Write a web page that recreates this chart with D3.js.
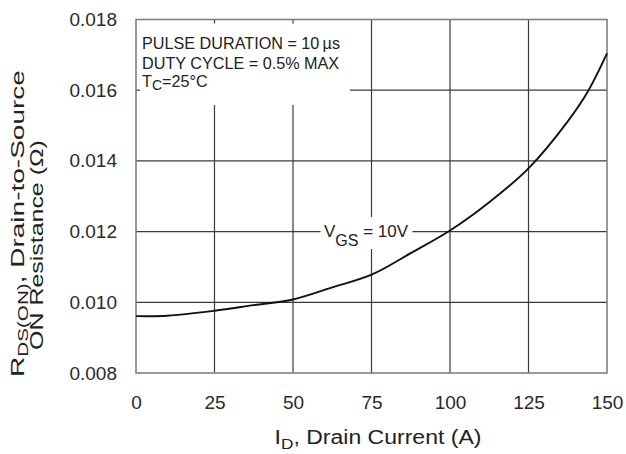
<!DOCTYPE html>
<html>
<head>
<meta charset="utf-8">
<script src="https://cdn.jsdelivr.net/npm/d3@7"></script>
<style>
  html, body { margin: 0; padding: 0; background: #fff; }
  svg { display: block; font-family: "Liberation Sans", Arial, Helvetica, sans-serif; }
</style>
</head>
<body>
<svg id="chart" width="626" height="454"></svg>
<script>
// Drain current (A) and on-resistance (ohm) along the VGS = 10 V curve
const drainCurrent = [0, 10, 25, 37.5, 50, 62.5, 75, 87.5, 100, 112.5, 125, 137.5, 144, 150];
const onResistance = [0.00961, 0.00962, 0.00976, 0.00992, 0.01008, 0.01042, 0.01078, 0.01139, 0.01203, 0.01283, 0.01379, 0.01512, 0.01598, 0.01704];

const xTicks = [0, 25, 50, 75, 100, 125, 150];
const yTicks = [0.008, 0.010, 0.012, 0.014, 0.016, 0.018];

(function () {
  const svg = d3.select("#chart");
  const plotLeft = 136, plotRight = 607, plotTop = 19.5, plotBottom = 373;

  const x = d3.scaleLinear().domain([0, 150]).range([plotLeft, plotRight]);
  const y = d3.scaleLinear().domain([0.008, 0.018]).range([plotBottom, plotTop]);

  const grid = svg.append("g").attr("stroke", "#3a3a3a").attr("stroke-width", 1.2).attr("fill", "none");

  // grid lines; some are cut where the notes sit
  function hLine(v, x0, x1) {
    grid.append("line").attr("x1", x0).attr("x2", x1).attr("y1", y(v)).attr("y2", y(v));
  }
  function vLine(v, y0, y1) {
    grid.append("line").attr("x1", x(v)).attr("x2", x(v)).attr("y1", y0).attr("y2", y1);
  }
  hLine(0.010, plotLeft, plotRight);
  hLine(0.012, plotLeft, 320.5);
  hLine(0.012, 412.5, plotRight);
  hLine(0.014, plotLeft, plotRight);
  hLine(0.016, 350, plotRight);
  hLine(0.016, plotLeft, plotLeft + 4);      // short inner tick beside the notes

  vLine(25, 105, plotBottom);
  vLine(25, plotTop, plotTop + 4);
  vLine(50, 105, plotBottom);
  vLine(50, plotTop, plotTop + 4);
  vLine(75, plotTop, 217);
  vLine(75, 249, plotBottom);
  vLine(100, plotTop, plotBottom);
  vLine(125, plotTop, plotBottom);

  // plot frame
  svg.append("rect")
    .attr("x", plotLeft).attr("y", plotTop)
    .attr("width", plotRight - plotLeft).attr("height", plotBottom - plotTop)
    .attr("fill", "none").attr("stroke", "#808080").attr("stroke-width", 1.6);

  // curve
  const pts = drainCurrent.map((d, i) => [d, onResistance[i]]);
  svg.append("path")
    .datum(pts)
    .attr("fill", "none")
    .attr("stroke", "#111")
    .attr("stroke-width", 1.9)
    .attr("d", d3.line().x(d => x(d[0])).y(d => y(d[1])).curve(d3.curveCatmullRom.alpha(0.5)));

  // axes (labels only, the frame draws the lines)
  const xAxis = svg.append("g")
    .attr("transform", `translate(0,${plotBottom})`)
    .call(d3.axisBottom(x).tickValues(xTicks).tickSize(0).tickPadding(23).tickFormat(d3.format("d")));
  xAxis.select(".domain").remove();
  xAxis.attr("font-family", null).attr("font-size", 19);
  xAxis.selectAll("text").attr("fill", "#2a2a2a");

  const yAxis = svg.append("g")
    .attr("transform", `translate(${plotLeft},0)`)
    .call(d3.axisLeft(y).tickValues(yTicks).tickSize(0).tickPadding(19).tickFormat(d3.format(".3f")));
  yAxis.select(".domain").remove();
  yAxis.attr("font-family", null).attr("font-size", 19);
  yAxis.selectAll("text").attr("fill", "#2a2a2a");

  const ink = "#222";

  // test-condition notes
  const notes = svg.append("g").attr("font-size", 16.2).attr("fill", ink);
  notes.append("text").attr("x", 142).attr("y", 49).text("PULSE DURATION = 10\u2009\u00b5s");
  notes.append("text").attr("x", 142).attr("y", 68.5).text("DUTY CYCLE = 0.5% MAX");
  const tc = notes.append("text").attr("x", 142).attr("y", 86.5);
  tc.append("tspan").text("T");
  tc.append("tspan").attr("font-size", 14).attr("dy", 3.5).text("C");
  tc.append("tspan").attr("dy", -3.5).text("=25\u00b0C");

  // curve label
  const vgs = svg.append("text").attr("x", 324).attr("y", 237).attr("font-size", 17).attr("fill", ink);
  vgs.append("tspan").text("V");
  vgs.append("tspan").attr("font-size", 16).attr("dy", 9).text("GS");
  vgs.append("tspan").attr("dy", -9).text(" = 10V");

  // stretch factor that makes a title span the given length along its own direction
  function fitLength(sel, len) {
    return len / sel.node().getComputedTextLength();
  }

  // x-axis title
  const xtG = svg.append("g");
  const xt = xtG.append("text").attr("text-anchor", "middle")
    .attr("font-size", 20).attr("fill", ink);
  xt.append("tspan").text("I");
  xt.append("tspan").attr("font-size", 15).attr("dy", 5).text("D");
  xt.append("tspan").attr("dy", -5).text(", Drain Current (A)");
  xtG.attr("transform", `translate(378,444) scale(${fitLength(xt, 207)},1)`);

  // y-axis title, two rotated lines
  const yt1G = svg.append("g");
  const yt1 = yt1G.append("text").attr("text-anchor", "middle").attr("font-size", 19).attr("fill", ink);
  yt1.append("tspan").text("R");
  yt1.append("tspan").attr("font-size", 14).attr("dy", 4).text("DS(ON)");
  yt1.append("tspan").attr("dy", -4).text(", Drain-to-Source");
  yt1G.attr("transform", `translate(24,223.5) rotate(-90) scale(${fitLength(yt1, 307)},1)`);

  const yt2G = svg.append("g");
  const yt2 = yt2G.append("text").attr("text-anchor", "middle").attr("font-size", 19).attr("fill", ink)
    .text("ON Resistance (\u03a9)");
  yt2G.attr("transform", `translate(43,245) rotate(-90) scale(${fitLength(yt2, 210)},1)`);
})();
</script>
</body>
</html>
